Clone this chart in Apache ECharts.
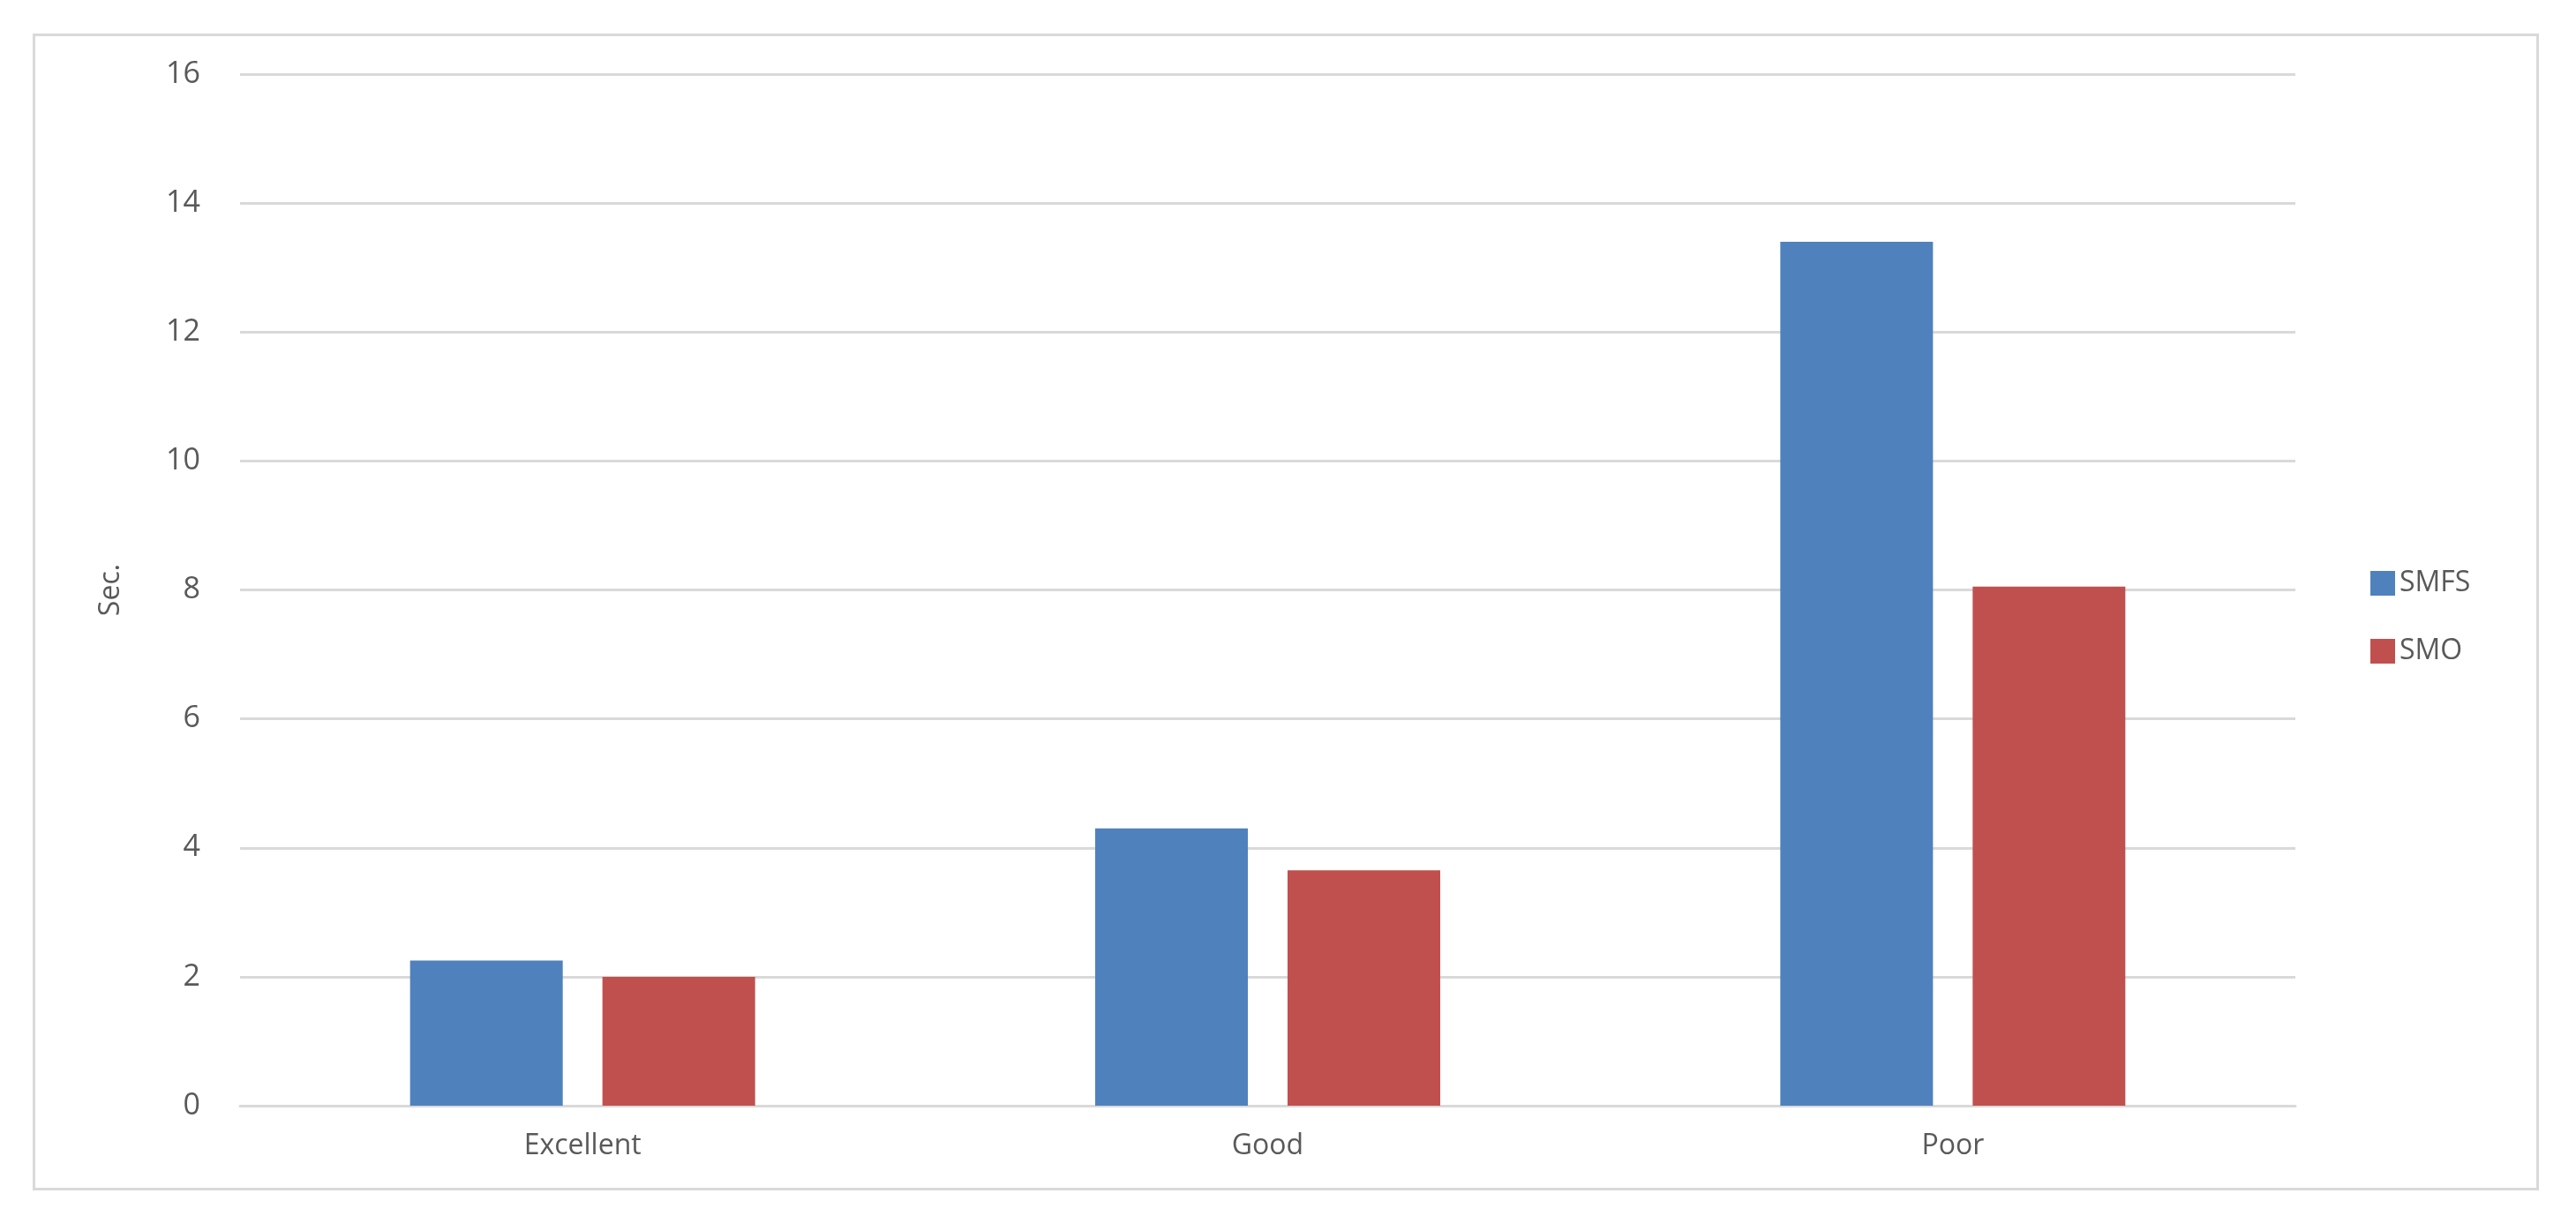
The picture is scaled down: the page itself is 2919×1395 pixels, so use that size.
<!DOCTYPE html>
<html><head><meta charset="utf-8">
<script src="https://cdn.jsdelivr.net/npm/echarts@6/dist/echarts.min.js"></script>
<style>html,body{margin:0;padding:0;background:#fff}
#frame{position:absolute;left:37px;top:38px;width:2840px;height:1311px;border:3px solid #d9d9d9;box-sizing:border-box}
#c{position:absolute;left:0;top:0;width:2919px;height:1395px}</style>
</head><body><div id="frame"></div><div id="c"></div>
<script>
const categories = ['Excellent', 'Good', 'Poor'];
const smfs = [2.25, 4.3, 13.4];
const smo = [2.0, 3.65, 8.05];
const seriesNames = ['SMFS', 'SMO'];
const chart = echarts.init(document.getElementById('c'));
const font = 'Open Sans';
chart.setOption({
  animation: false,
  grid: {left: 272, right: 2919 - 2601, top: 84, bottom: 1395 - 1253},
  legend: {
    orient: 'vertical', left: 2681, top: 640, itemWidth: 28, itemHeight: 28, itemGap: 45,
    textStyle: {fontFamily: font, fontSize: 32, color: '#595959'},
    icon: 'rect', data: seriesNames
  },
  xAxis: {
    type: 'category', data: categories,
    axisLine: {lineStyle: {color: '#d9d9d9', width: 3}},
    axisTick: {show: false},
    axisLabel: {fontFamily: font, fontSize: 32, color: '#595959', margin: 30}
  },
  yAxis: {
    type: 'value', min: 0, max: 16, interval: 2,
    name: 'Sec.', nameLocation: 'middle', nameGap: 130,
    nameTextStyle: {fontFamily: font, fontSize: 32, color: '#595959'},
    axisLabel: {fontFamily: font, fontSize: 34, color: '#595959', margin: 45},
    splitLine: {lineStyle: {color: '#d9d9d9', width: 3}}
  },
  series: [
    {name: seriesNames[0], type: 'bar', data: smfs, barWidth: 173, barGap: '26%', itemStyle: {color: '#4F81BD'}},
    {name: seriesNames[1], type: 'bar', data: smo, barWidth: 173, itemStyle: {color: '#C0504D'}}
  ]
});
</script></body></html>
